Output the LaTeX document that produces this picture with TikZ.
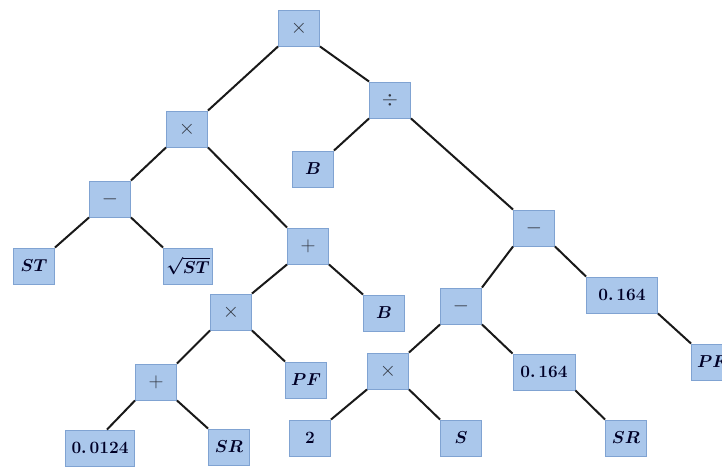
\documentclass[tikz,border=0pt]{standalone}
\usepackage{amsmath}
\usepackage{bm}
\usepackage{tikz}
\tikzset{>=stealth}
\definecolor{boxfill}{RGB}{170,199,235}
\definecolor{boxline}{RGB}{128,163,210}
\definecolor{optext}{RGB}{50,55,65}
\tikzset{
    box/.style={draw=boxline, fill=boxfill, line width=0.9pt,
        minimum width=41pt, minimum height=36pt, inner sep=0pt,
        font=\fontsize{16}{18}\selectfont, text=black!85!blue},
    opbox/.style={box, font=\fontsize{21}{24}\selectfont, text=optext},
    edge/.style={line width=2pt, color=black!90}
}

\begin{document}
\begin{tikzpicture}[x=1pt, y=-1pt]
    \clip (0,0) rectangle (722,466);

    % operators
    \node[opbox] (top) at (299,28) {$\times$};
    \node[opbox] (div) at (390,100) {$\div$};
    \node[opbox] (mulA) at (187,129) {$\times$};
    \node[opbox] (subA) at (110,199) {$-$};
    \node[opbox] (addA) at (308,246) {$+$};
    \node[opbox] (subB) at (534,228) {$-$};
    \node[opbox] (mulB) at (231,312) {$\times$};
    \node[opbox] (subC) at (461,306) {$-$};
    \node[opbox] (mulC) at (388,371) {$\times$};
    \node[opbox] (addB) at (156,382) {$+$};

    % operands
    \node[box] (bA) at (313,169) {$\bm{B}$};
    \node[box] (st) at (34,266) {$\bm{ST}$};
    \node[box, minimum width=49pt] (sqst) at (188,266) {$\bm{\sqrt{ST}}$};
    \node[box] (bB) at (384,313) {$\bm{B}$};
    \node[box, minimum width=71pt] (cA) at (622,295) {$\bm{0.\,164}$};
    \node[box] (pfA) at (306,380) {$\bm{PF}$};
    \node[box, minimum width=62pt] (cB) at (544,372) {$\bm{0.\,164}$};
    \node[box] (pfB) at (712,362) {$\bm{PF}$};
    \node[box, minimum width=69pt] (cC) at (100,448) {$\bm{0.\,0124}$};
    \node[box] (srA) at (229,447) {$\bm{SR}$};
    \node[box] (two) at (310,438) {$\bm{2}$};
    \node[box] (s) at (461,438) {$\bm{S}$};
    \node[box] (srB) at (626,438) {$\bm{SR}$};

    % branches, corner to corner
    \draw[edge] (top.south west) -- (mulA.north east);
    \draw[edge] (top.south east) -- (div.north west);
    \draw[edge] (div.south west) -- (bA.north east);
    \draw[edge] (div.south east) -- (subB.north west);
    \draw[edge] (mulA.south west) -- (subA.north east);
    \draw[edge] (mulA.south east) -- (addA.north west);
    \draw[edge] (subA.south west) -- (st.north east);
    \draw[edge] (subA.south east) -- (sqst.north west);
    \draw[edge] (addA.south west) -- (mulB.north east);
    \draw[edge] (addA.south east) -- (bB.north west);
    \draw[edge] (mulB.south west) -- (addB.north east);
    \draw[edge] (mulB.south east) -- (pfA.north west);
    \draw[edge] (addB.south west) -- ([xshift=7pt]cC.north);
    \draw[edge] (addB.south east) -- (srA.north west);
    \draw[edge] (subB.south west) -- (subC.north east);
    \draw[edge] (subB.south east) -- (cA.north west);
    \draw[edge] (cA.south east) -- (pfB.north west);
    \draw[edge] (subC.south west) -- (mulC.north east);
    \draw[edge] (subC.south east) -- (cB.north west);
    \draw[edge] (mulC.south west) -- (two.north east);
    \draw[edge] (mulC.south east) -- (s.north west);
    \draw[edge] (cB.south east) -- (srB.north west);
\end{tikzpicture}
\end{document}
